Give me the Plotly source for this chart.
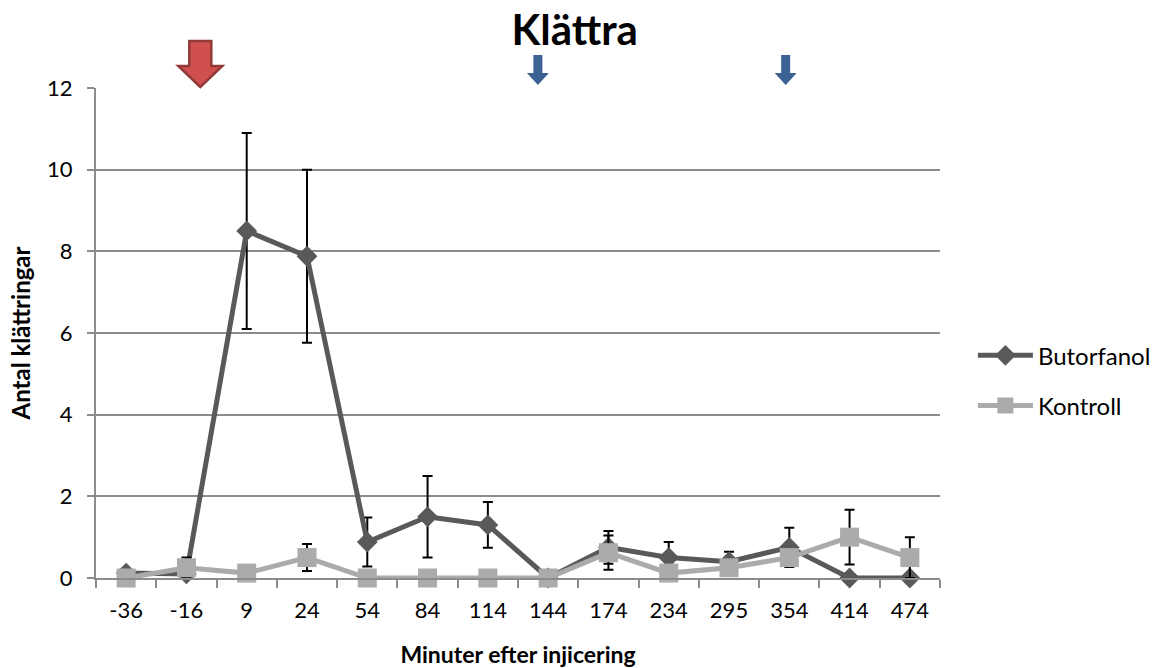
import plotly.graph_objects as go

categories = ["-36", "-16", "9", "24", "54", "84", "114", "144", "174", "234", "295", "354", "414", "474"]
butorfanol = [0.12, 0.1, 8.5, 7.88, 0.88, 1.5, 1.3, 0.0, 0.75, 0.5, 0.4, 0.75, 0.0, 0.0]
butorfanol_err = [None, None, 2.4, 2.12, 0.6, 1.0, 0.56, None, 0.4, 0.38, 0.24, 0.48, None, None]
kontroll = [0.0, 0.25, 0.12, 0.5, 0.0, 0.0, 0.0, 0.0, 0.62, 0.12, 0.25, 0.5, 1.0, 0.5]
kontroll_err = [None, 0.25, None, 0.33, None, None, None, None, 0.42, None, None, None, 0.67, 0.5]

# arrow positions (category index) for treatment markers
red_arrow_pos = [1.23]
blue_arrow_pos = [6.83, 10.94]

FONT = "Lato, 'Open Sans', sans-serif"

fig = go.Figure()
fig.add_trace(go.Scatter(
    x=categories, y=butorfanol, name="Butorfanol", mode="lines+markers",
    legendgroup="a",
    line=dict(color="#595959", width=5),
    marker=dict(symbol="diamond", size=16, color="#595959"),
    error_y=dict(type="data", array=butorfanol_err, visible=True, color="black", thickness=2, width=5),
    cliponaxis=False,
))
fig.add_trace(go.Scatter(
    x=categories, y=kontroll, name="Kontroll", mode="lines+markers",
    legendgroup="b",
    line=dict(color="#ababab", width=5),
    marker=dict(symbol="square", size=19, color="#ababab"),
    error_y=dict(type="data", array=kontroll_err, visible=True, color="black", thickness=2, width=5),
    cliponaxis=False,
))

shapes = []
H = 490.0
def py(pix):
    return (578 - pix) / H

def arrow(xc, half_shaft, half_head, top, neck, tip, fill, line_color, lw):
    u = 60.3
    hs = half_shaft / u
    hh = half_head / u
    path = (f"M {xc-hs},{py(top)} L {xc+hs},{py(top)} L {xc+hs},{py(neck)} "
            f"L {xc+hh},{py(neck)} L {xc},{py(tip)} L {xc-hh},{py(neck)} "
            f"L {xc-hs},{py(neck)} Z")
    return dict(type="path", xref="x", yref="paper", path=path,
                fillcolor=fill, line=dict(color=line_color, width=lw), layer="above")

for xc in red_arrow_pos:
    shapes.append(arrow(xc, 11, 22, 41, 66, 87, "#d0504f", "#923a38", 2.5))
for xc in blue_arrow_pos:
    shapes.append(arrow(xc, 4.5, 11, 55, 73, 85, "#3b6293", "#3b6293", 0))

fig.update_layout(
    width=1161, height=668,
    margin=dict(l=96, r=221, t=88, b=90, autoexpand=False),
    paper_bgcolor="white", plot_bgcolor="white",
    font=dict(family=FONT, size=22, color="black"),
    title=dict(text="<b>Klättra</b>", x=0.495, xanchor="center", y=0.955, yanchor="middle",
               font=dict(size=42, family=FONT, color="black")),
    showlegend=True,
    legend=dict(xref="container", yref="container", x=0.838, y=0.43,
                xanchor="left", yanchor="middle",
                font=dict(size=24, family=FONT), itemwidth=55, tracegroupgap=16,
                traceorder="grouped", bgcolor="rgba(0,0,0,0)"),
    xaxis=dict(
        type="category", range=[-0.5, 13.5], automargin=False,
        showline=True, linecolor="#8c8c8c", linewidth=2,
        showgrid=False, tickson="boundaries", ticks="outside", ticklen=8,
        tickcolor="#8c8c8c", tickwidth=2, ticklabelstandoff=12,
        tickfont=dict(size=22, family=FONT),
        title=dict(text="<b>Minuter efter injicering</b>", font=dict(size=23, family=FONT), standoff=24),
    ),
    yaxis=dict(
        range=[0, 12], dtick=2, tick0=0, automargin=False,
        showline=True, linecolor="#8c8c8c", linewidth=2,
        showgrid=True, gridcolor="#8c8c8c", gridwidth=1.5,
        ticks="outside", ticklen=7, tickcolor="#8c8c8c", tickwidth=2,
        ticklabelstandoff=10,
        tickfont=dict(size=22, family=FONT),
        zeroline=False,
        title=dict(text="<b>Antal klättringar</b>", font=dict(size=24, family=FONT), standoff=10),
    ),
    shapes=shapes,
)

fig.write_html("out.html")
